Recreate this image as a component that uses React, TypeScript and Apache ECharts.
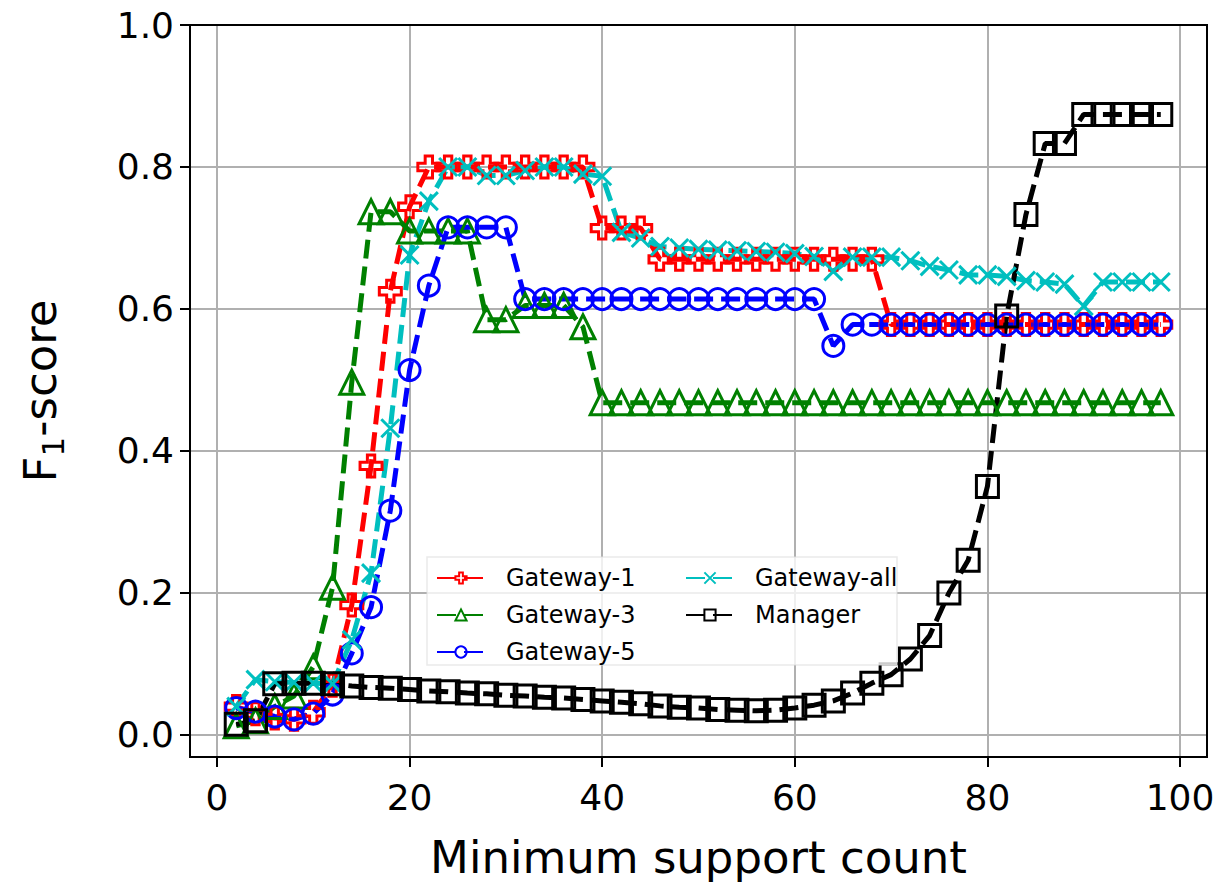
import { useEffect, useRef } from 'react';
import * as echarts from 'echarts';

const minSupport = [2, 4, 6, 8, 10, 12, 14, 16, 18, 20, 22, 24, 26, 28, 30, 32, 34, 36, 38, 40, 42, 44, 46, 48, 50, 52, 54, 56, 58, 60, 62, 64, 66, 68, 70, 72, 74, 76, 78, 80, 82, 84, 86, 88, 90, 92, 94, 96, 98];

const gateway1 = [0.04, 0.03, 0.024, 0.022, 0.032, 0.07, 0.183, 0.379, 0.625, 0.744, 0.8,
  0.8, 0.8, 0.8, 0.8, 0.8, 0.8, 0.8, 0.8,
  0.714, 0.714, 0.714,
  0.67, 0.67, 0.67, 0.67, 0.67, 0.67, 0.67, 0.67, 0.67, 0.67, 0.67, 0.67,
  0.578, 0.578, 0.578, 0.578, 0.578, 0.578, 0.578, 0.578, 0.578, 0.578, 0.578, 0.578, 0.578, 0.578, 0.578];

const gateway3 = [0.013, 0.02, 0.04, 0.055, 0.096, 0.208, 0.497,
  0.737, 0.737,
  0.71, 0.71, 0.71, 0.71,
  0.585, 0.585,
  0.605, 0.605, 0.605,
  0.575,
  0.468, 0.468, 0.468, 0.468, 0.468, 0.468, 0.468, 0.468, 0.468, 0.468, 0.468, 0.468, 0.468, 0.468, 0.468,
  0.468, 0.468, 0.468, 0.468, 0.468, 0.468, 0.468, 0.468, 0.468, 0.468, 0.468, 0.468, 0.468, 0.468, 0.468];

const gateway5 = [0.038, 0.033, 0.026, 0.022, 0.03, 0.057, 0.115, 0.18, 0.316, 0.514, 0.633,
  0.715, 0.715, 0.715, 0.715,
  0.614, 0.614, 0.614, 0.614, 0.614, 0.614, 0.614, 0.614, 0.614, 0.614, 0.614, 0.614, 0.614, 0.614, 0.614, 0.614,
  0.548,
  0.578,
  0.578, 0.578, 0.578, 0.578, 0.578, 0.578, 0.578, 0.578, 0.578, 0.578, 0.578, 0.578, 0.578, 0.578, 0.578, 0.578];

const gatewayAll = [0.04, 0.078, 0.075, 0.074, 0.073, 0.072, 0.134, 0.228, 0.432, 0.676, 0.752,
  0.8, 0.8, 0.788, 0.788, 0.795, 0.8, 0.8, 0.79, 0.787,
  0.708, 0.7, 0.688, 0.686, 0.684, 0.683, 0.682, 0.681, 0.68, 0.678, 0.674, 0.653, 0.673, 0.673,
  0.673, 0.668, 0.66, 0.655, 0.648, 0.648, 0.646, 0.64, 0.638, 0.635, 0.604, 0.638, 0.638, 0.638, 0.638];

const manager = [0.015, 0.02, 0.072, 0.073, 0.073, 0.072, 0.069, 0.067, 0.066, 0.064, 0.062,
  0.061, 0.059, 0.058, 0.056, 0.055, 0.053, 0.052, 0.05, 0.048,
  0.046, 0.044, 0.041, 0.039, 0.038, 0.036, 0.035, 0.034, 0.035, 0.038, 0.042, 0.048, 0.059, 0.073,
  0.085, 0.107, 0.14, 0.2, 0.246, 0.35, 0.59, 0.733, 0.833, 0.833, 0.874, 0.874, 0.874, 0.874, 0.874];

const seriesNames = ['Gateway-1', 'Gateway-3', 'Gateway-5', 'Gateway-all', 'Manager'];
const xTicks = [0, 20, 40, 60, 80, 100];
const yTicks = [0, 0.2, 0.4, 0.6, 0.8, 1.0];

const FONT = "'DejaVu Sans', sans-serif";

const plusPath = 'path://M1 0H2V1H3V2H2V3H1V2H0V1H1Z';
const xPath = 'path://M0 0L10 10M10 0L0 10';

export default function App() {
  const ref = useRef<HTMLDivElement>(null);

  useEffect(() => {
    if (!ref.current) return;
    const chart = echarts.init(ref.current, null, { renderer: 'svg' });

    const pairs = (vals: number[]) => minSupport.map((x, i) => [x, vals[i]]);

    const mk = (name: string, vals: number[], color: string, symbol: string, size: number) => ({
      type: 'line',
      name,
      data: pairs(vals),
      symbol,
      symbolSize: size,
      symbolKeepAspect: true,
      showAllSymbol: true,
      lineStyle: { color, width: 5, type: [19, 8] },
      itemStyle: { color: 'rgba(0,0,0,0)', borderColor: color, borderWidth: 3 },
      emphasis: { disabled: true },
      z: 2,
    });

    const legendCommon = {
      orient: 'vertical',
      itemWidth: 48,
      itemHeight: 14,
      itemGap: 13,
      selectedMode: false,
      z: 6,
      textStyle: { fontSize: 24, lineHeight: 24, fontFamily: FONT, color: '#000', padding: [0, 0, 0, 16] },
    };

    const option: any = {
      animation: false,
      backgroundColor: '#fff',
      grid: { left: 190, right: 21, top: 25, bottom: 139, containLabel: false },
      xAxis: {
        type: 'value',
        min: -2.8,
        max: 102.8,
        axisLine: { show: true, onZero: false, lineStyle: { color: '#000', width: 2 } },
        axisTick: { show: true, length: 10, lineStyle: { color: '#000', width: 2 }, customValues: xTicks },
        axisLabel: {
          customValues: xTicks,
          fontSize: 36,
          color: '#000',
          fontFamily: FONT,
          margin: 22,
          formatter: (v: number) => String(Math.round(v)),
        },
        splitLine: { show: true, lineStyle: { color: '#b0b0b0', width: 2 } },
        name: 'Minimum support count',
        nameLocation: 'middle',
        nameGap: 78,
        nameTextStyle: { fontSize: 45, color: '#000', fontFamily: FONT },
      },
      yAxis: {
        type: 'value',
        min: -0.031,
        max: 1.0,
        axisLine: { show: true, onZero: false, lineStyle: { color: '#000', width: 2 } },
        axisTick: { show: true, length: 10, lineStyle: { color: '#000', width: 2 }, customValues: yTicks },
        axisLabel: {
          customValues: yTicks,
          fontSize: 36,
          color: '#000',
          fontFamily: FONT,
          margin: 16,
          formatter: (v: number) => v.toFixed(1),
        },
        splitLine: { show: true, lineStyle: { color: '#b0b0b0', width: 2 } },
        name: '{a|F}{b|1}{a|-score}',
        nameLocation: 'middle',
        nameGap: 122,
        nameTextStyle: {
          color: '#000',
          fontFamily: FONT,
          rich: {
            a: { fontSize: 45, fontFamily: FONT, color: '#000', lineHeight: 56, verticalAlign: 'middle' },
            b: { fontSize: 31, fontFamily: FONT, color: '#000', lineHeight: 56, verticalAlign: 'bottom', padding: [18, 0, 0, 0] },
          },
        },
      },
      legend: [
        { ...legendCommon, data: [seriesNames[0], seriesNames[1], seriesNames[2]], left: 431, top: 561 },
        { ...legendCommon, data: [seriesNames[3], seriesNames[4]], left: 680, top: 561 },
      ],
      graphic: [
        {
          type: 'rect',
          z: 5,
          silent: true,
          shape: { x: 427, y: 557, width: 470, height: 108 },
          style: { fill: 'rgba(255,255,255,0.8)', stroke: 'rgba(220,220,220,0.6)', lineWidth: 1.5 },
        },
        {
          type: 'rect',
          z: 10,
          silent: true,
          shape: { x: 190, y: 25, width: 1017, height: 732 },
          style: { fill: 'none', stroke: '#000', lineWidth: 2 },
        },
      ],
      series: [
        mk(seriesNames[0], gateway1, '#ff0000', plusPath, 22),
        mk(seriesNames[1], gateway3, '#008000', 'triangle', 24),
        mk(seriesNames[2], gateway5, '#0000ff', 'circle', 21),
        mk(seriesNames[3], gatewayAll, '#00bfbf', xPath, 18),
        mk(seriesNames[4], manager, '#000000', 'rect', 22),
      ],
    };

    chart.setOption(option);
    return () => chart.dispose();
  }, []);

  return (
    <div style={{ position: 'fixed', left: 0, top: 0, width: 1228, height: 896, background: '#fff' }}>
      <div ref={ref} style={{ width: 1228, height: 896 }} />
    </div>
  );
}
